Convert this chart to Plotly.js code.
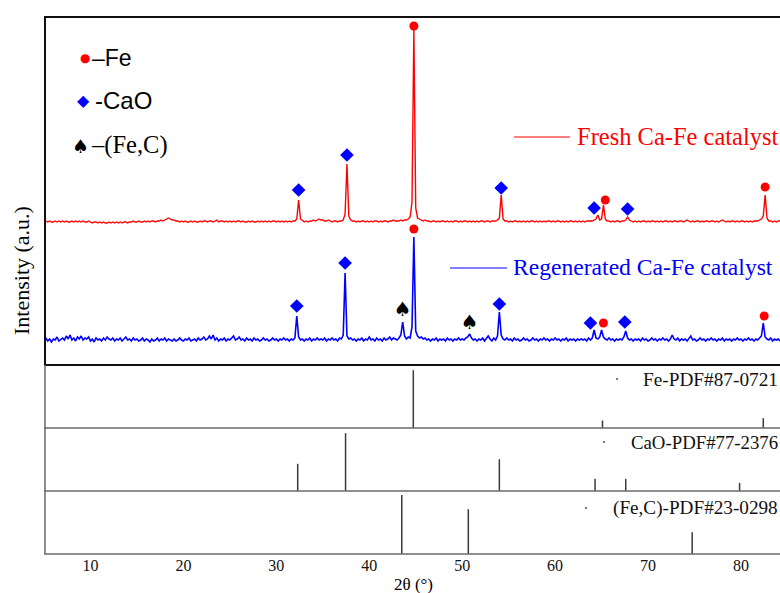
<!DOCTYPE html>
<html>
<head>
<meta charset="utf-8">
<script src="https://cdn.plot.ly/plotly-3.0.1.min.js"></script>
<style>html,body{margin:0;padding:0;background:#fff;overflow:hidden;}#chart{width:780px;height:593px;}</style>
</head>
<body>
<div id="chart"></div>
<script>
// ---------- DATA ----------
// 2θ sampling: start 5°, step 0.2°
const twoThetaStart = 5;
const twoThetaStep = 0.2;

// Fresh Ca-Fe catalyst, intensity (a.u.) above its baseline
const freshY = [
0,1,0,1,0,0,1,0,1,0,
1,0,1,0,0,1,0,1,0,1,
0,1,0,0,1,0,-1,0,0,-1,
0,-1,0,-1,-1,0,-1,0,-1,0,
-1,0,-1,0,0,-1,0,0,1,0,
0,1,0,0,1,0,1,0,1,1,
0,1,1,2,1,2,3,4,3,2,
2,1,1,0,1,0,1,0,0,1,
0,1,0,0,1,0,1,1,0,1,
1,0,1,2,0,1,1,0,1,0,
1,0,1,0,1,1,0,1,0,0,
1,0,1,0,0,1,0,1,0,1,
0,1,0,1,1,0,1,0,1,0,
1,0,1,0,1,1,3,22,3,1,
0,1,0,1,1,2,1,2,3,2,
2,1,1,2,1,0,1,1,0,1,
1,2,8,58,6,2,1,1,0,1,
0,1,1,0,1,0,1,0,1,1,
0,1,0,1,1,0,1,1,2,1,
1,1,2,1,2,2,3,5,20,192,
14,4,3,2,1,2,1,1,0,1,
1,0,1,0,1,1,0,1,0,1,
0,1,1,0,1,0,1,1,0,1,
0,1,0,1,0,1,1,0,1,1,
0,1,1,1,2,4,27,3,1,1,
0,1,0,1,1,0,1,0,1,0,
1,0,1,1,0,1,0,1,0,1,
0,1,1,0,1,0,1,1,0,1,
0,1,0,1,1,0,1,0,1,0,
1,0,1,1,1,1,2,3,7,2,
3,17,3,1,1,0,1,0,1,1,
0,1,1,2,5,2,1,0,1,0,
1,0,1,1,0,1,0,1,1,0,
1,0,1,0,1,1,0,1,0,1,
1,0,1,1,0,1,2,1,0,1,
0,1,1,0,1,0,1,1,0,1,
1,0,1,0,1,2,1,0,1,0,
1,1,0,1,0,1,1,0,1,0,
1,0,1,1,1,2,3,6,27,4,
1,1,0,1,0,1,1
];

// Regenerated Ca-Fe catalyst, intensity (a.u.) above its baseline
const regenY = [
1,3,0,2,-1,2,1,4,0,2,
3,1,5,2,6,1,3,0,4,2,
5,1,3,2,4,0,2,-1,3,1,
2,0,3,1,4,2,1,3,0,2,
1,3,0,2,4,1,2,0,3,1,
2,0,1,3,0,2,1,-1,2,0,
1,3,0,2,1,3,0,2,1,0,
2,0,1,3,1,0,2,1,3,0,
1,2,0,3,1,2,4,1,2,5,
2,6,1,3,0,2,1,3,0,2,
1,3,5,1,2,4,1,2,0,3,
1,2,0,3,1,2,0,1,3,1,
2,0,1,3,1,2,0,2,1,3,
1,2,0,2,1,3,25,4,1,2,
0,2,1,3,0,2,1,3,1,2,
1,3,0,2,1,3,1,2,0,3,
2,6,68,5,2,3,1,2,0,2,
1,3,0,2,1,4,1,2,0,3,
1,2,0,3,1,2,4,1,3,2,
1,3,6,19,5,2,4,3,14,104,
10,5,3,4,2,3,1,2,0,2,
1,3,0,2,1,2,0,3,1,2,
0,2,1,3,1,2,1,3,4,7,
3,1,2,0,2,1,3,0,2,5,
2,0,3,1,5,29,6,2,1,3,
1,2,0,3,1,2,0,1,3,1,
2,0,1,3,1,2,0,2,1,3,
1,2,0,2,1,3,1,2,0,2,
1,3,0,2,1,2,0,2,1,2,
1,2,0,3,1,3,11,3,2,4,
11,4,2,1,3,1,2,0,2,1,
2,1,4,10,3,1,2,0,2,1,
2,0,3,1,2,0,1,3,1,2,
0,2,1,3,1,2,0,2,6,2,
1,3,0,2,1,2,0,2,5,1,
2,0,1,3,1,2,0,2,1,3,
1,2,0,2,1,3,0,2,1,2,
0,2,1,3,1,2,0,2,1,3,
1,2,0,2,1,3,5,18,4,2,
1,3,0,2,1,2,0
];

// Phase markers above peaks (2θ, intensity in the stacked plot)
const freshFeX = [44.8, 65.4, 82.6];
const freshFeY = [339, 165, 178];
const freshCaOX = [32.4, 37.6, 54.2, 64.2, 67.8];
const freshCaOY = [175, 210, 177, 157, 156];
const regenFeX = [44.8, 65.2, 82.5];
const regenFeY = [136, 42, 49];
const regenCaOX = [32.2, 37.4, 54.0, 63.8, 67.5];
const regenCaOY = [59, 102, 61, 42, 43];
const regenFeCX = [43.6, 50.8];
const regenFeCY = [54, 41];

// Reference patterns (2θ, relative intensity)
const fePdfPos = [44.74, 65.1, 82.4];
const fePdfInt = [100, 13, 17];
const caoPdfPos = [32.3, 37.45, 54.0, 64.3, 67.6, 79.85];
const caoPdfInt = [47, 100, 55, 21, 21, 14];
const fecPdfPos = [43.5, 50.66, 74.75];
const fecPdfInt = [100, 76, 37];

const xTickVals = [10, 20, 30, 40, 50, 60, 70, 80];

// ---------- STYLE / LAYOUT CONSTANTS ----------
const FRESH_OFFSET = 143;
const REGEN_OFFSET = 24;
const SERIF = '"Liberation Serif", "Times New Roman", serif';
const SANS = '"Liberation Sans", Arial, sans-serif';

const W = 780, H = 593;
const M = {l: 44, r: 0, t: 17, b: 39};
const PW = W - M.l - M.r, PH = H - M.t - M.b;
const px = v => (v - M.l) / PW;
const py = v => (H - M.b - v) / PH;

const dFeC = [0, py(491)];
const dCaO = [py(491), py(428)];
const dFe = [py(428), py(365)];
const dTop = [py(365), 1];

function sticks(pos, inten) {
  const x = [], y = [];
  pos.forEach((p, i) => { x.push(p, p, null); y.push(0, inten[i], null); });
  return {x, y};
}

const traces = [];
traces.push({
  type: 'scatter', mode: 'lines', x0: twoThetaStart, dx: twoThetaStep,
  y: freshY.map(v => v + FRESH_OFFSET), xaxis: 'x', yaxis: 'y4',
  line: {color: '#ff0000', width: 1.4}, hoverinfo: 'skip'
});
traces.push({
  type: 'scatter', mode: 'lines', x0: twoThetaStart, dx: twoThetaStep,
  y: regenY.map(v => v + REGEN_OFFSET), xaxis: 'x', yaxis: 'y4',
  line: {color: '#0000ff', width: 1.6}, hoverinfo: 'skip'
});
// markers
const dot = {symbol: 'circle', size: 9, color: '#ff0000'};
const dia = {symbol: 'diamond', size: 10.5, color: '#0000ff'};
traces.push({type: 'scatter', mode: 'markers', x: freshFeX, y: freshFeY, xaxis: 'x', yaxis: 'y4', marker: dot, cliponaxis: false});
traces.push({type: 'scatter', mode: 'markers', x: regenFeX, y: regenFeY, xaxis: 'x', yaxis: 'y4', marker: dot, cliponaxis: false});
traces.push({type: 'scatter', mode: 'markers', x: freshCaOX, y: freshCaOY, xaxis: 'x', yaxis: 'y4', marker: dia, cliponaxis: false});
traces.push({type: 'scatter', mode: 'markers', x: regenCaOX, y: regenCaOY, xaxis: 'x', yaxis: 'y4', marker: dia, cliponaxis: false});
traces.push({type: 'scatter', mode: 'text', x: regenFeCX, y: regenFeCY, xaxis: 'x', yaxis: 'y4',
  text: regenFeCX.map(() => '♠'), textposition: 'middle center',
  textfont: {family: '"DejaVu Sans", sans-serif', size: 20, color: '#000'}, cliponaxis: false});

// reference sticks
const stickLine = {color: '#3a3a3a', width: 1.5};
const sFe = sticks(fePdfPos, fePdfInt);
const sCaO = sticks(caoPdfPos, caoPdfInt);
const sFeC = sticks(fecPdfPos, fecPdfInt);
traces.push({type: 'scatter', mode: 'lines', x: sFe.x, y: sFe.y, xaxis: 'x', yaxis: 'y3', line: stickLine, hoverinfo: 'skip'});
traces.push({type: 'scatter', mode: 'lines', x: sCaO.x, y: sCaO.y, xaxis: 'x', yaxis: 'y2', line: stickLine, hoverinfo: 'skip'});
traces.push({type: 'scatter', mode: 'lines', x: sFeC.x, y: sFeC.y, xaxis: 'x', yaxis: 'y', line: stickLine, hoverinfo: 'skip'});

const yBase = {showgrid: false, zeroline: false, showticklabels: false, ticks: '', showline: false, fixedrange: true, anchor: 'x'};

const shapes = [];
function hline(y, color, width) { shapes.push({type: 'line', xref: 'paper', yref: 'paper', x0: 0, x1: 1.01, y0: y, y1: y, line: {color, width}}); }
function vline(x, y0, y1, color, width) { shapes.push({type: 'line', xref: 'paper', yref: 'paper', x0: x, x1: x, y0, y1, line: {color, width}}); }
hline(1, '#111', 2);
hline(py(365), '#111', 2);
hline(py(428), '#6a6a6a', 1.5);
hline(py(491), '#6a6a6a', 1.5);
hline(0, '#6a6a6a', 1.5);
vline(px(45), py(365), 1, '#111', 2);
vline(px(45), 0, py(365), '#6a6a6a', 1.5);
// label lines
shapes.push({type: 'line', xref: 'paper', yref: 'paper', x0: px(514), x1: px(570), y0: py(137), y1: py(137), line: {color: '#ff0000', width: 1}});
shapes.push({type: 'line', xref: 'paper', yref: 'paper', x0: px(450), x1: px(507), y0: py(268), y1: py(268), line: {color: '#0000ff', width: 1}});
// tiny dots near reference labels
[[617, 379], [604, 442], [586, 508]].forEach(([a, b]) => {
  shapes.push({type: 'rect', xref: 'paper', yref: 'paper', x0: px(a - 0.8), x1: px(a + 0.8), y0: py(b + 0.8), y1: py(b - 0.8), line: {width: 0}, fillcolor: '#222'});
});

function ann(text, x, y, font, opts) {
  return Object.assign({text, xref: 'paper', yref: 'paper', x: px(x), y: py(y), xanchor: 'left', yanchor: 'middle', showarrow: false, font}, opts || {});
}
const annotations = [
  ann('●', 85, 58, {family: '"DejaVu Sans", sans-serif', size: 12, color: '#ff0000'}, {xanchor: 'center'}),
  ann('–Fe', 90, 58, {family: SANS, size: 23, color: '#000'}),
  ann('◆', 83, 101, {family: '"DejaVu Sans", sans-serif', size: 16, color: '#0000ff'}, {xanchor: 'center'}),
  ann('-CaO', 93, 101, {family: SANS, size: 24, color: '#000'}),
  ann('♠', 80, 146, {family: '"DejaVu Sans", sans-serif', size: 19, color: '#000'}, {xanchor: 'center'}),
  ann('–(Fe,C)', 89, 145, {family: SERIF, size: 24.5, color: '#000'}),
  ann('Fresh Ca-Fe catalyst', 575, 136, {family: SERIF, size: 24.5, color: '#ff0000'}),
  ann('Regenerated Ca-Fe catalyst', 511, 267, {family: SERIF, size: 23.6, color: '#0000ff'}),
  ann('Fe-PDF#87-0721', 641, 379, {family: SERIF, size: 19.3, color: '#111'}),
  ann('CaO-PDF#77-2376', 629, 442, {family: SERIF, size: 18.8, color: '#111'}),
  ann('(Fe,C)-PDF#23-0298', 611, 508, {family: SERIF, size: 19.2, color: '#111'}),
  ann('Intensity (a.u.)', 21, 271, {family: SERIF, size: 22, color: '#000'}, {xanchor: 'center', textangle: -90}),
  ann('2θ (°)', 413, 584, {family: SERIF, size: 17, color: '#000'}, {xanchor: 'center'})
];

const layout = {
  width: W, height: H, margin: M,
  paper_bgcolor: '#fff', plot_bgcolor: '#fff',
  showlegend: false,
  xaxis: {range: [5, 84.2], tickvals: xTickVals, ticktext: xTickVals.map(String), ticks: '', showgrid: false, zeroline: false, showline: false,
    tickfont: {family: SERIF, size: 16, color: '#111'}, anchor: 'y', fixedrange: true},
  yaxis: Object.assign({}, yBase, {domain: dFeC, range: [0, 107]}),
  yaxis2: Object.assign({}, yBase, {domain: dCaO, range: [0, 109]}),
  yaxis3: Object.assign({}, yBase, {domain: dFe, range: [0, 109]}),
  yaxis4: Object.assign({}, yBase, {domain: dTop, range: [0, 348]}),
  shapes, annotations
};

Plotly.newPlot('chart', traces, layout, {displayModeBar: false, staticPlot: true});
</script>
</body>
</html>
